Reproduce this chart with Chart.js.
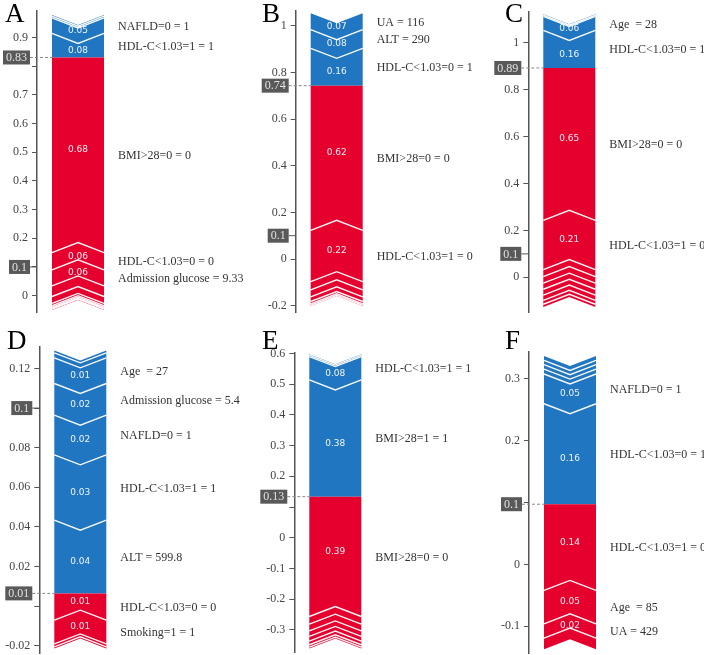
<!DOCTYPE html>
<html>
<head>
<meta charset="utf-8">
<script src="https://cdn.jsdelivr.net/npm/chart.js@4.4.1/dist/chart.umd.min.js"></script>
<style>
    html, body { margin: 0; padding: 0; background: #fff; width: 704px; height: 655px; overflow: hidden; }
    canvas { position: absolute; }
</style>
</head>
<body>
<canvas id="chart-a" width="290" height="350"></canvas>
<canvas id="chart-b" width="290" height="350"></canvas>
<canvas id="chart-c" width="290" height="350"></canvas>
<canvas id="chart-d" width="290" height="360"></canvas>
<canvas id="chart-e" width="290" height="360"></canvas>
<canvas id="chart-f" width="290" height="360"></canvas>
<script>
// Force plot data: blue segments stack upward from the output value, red ones downward

// A
const aBlueValues = [0.084, 0.054, 0.006, 0.004];
const aBlueNames = ['HDL-C<1.03=1 = 1', 'NAFLD=0 = 1', '', ''];
const aRedValues = [0.68, 0.06, 0.056, 0.037, 0.024, 0.008, 0.005, 0.004, 0.003, 0.003];
const aRedNames = ['BMI>28=0 = 0', 'HDL-C<1.03=0 = 0', 'Admission glucose = 9.33', '', '', '', '', '', '', ''];
const aOutput = 0.83;
const aBase = 0.1;
const aTicks = [0, 0.1, 0.2, 0.3, 0.4, 0.5, 0.6, 0.7, 0.8, 0.9];
const aTickLabels = ['0', '0.1', '0.2', '0.3', '0.4', '0.5', '0.6', '0.7', '', '0.9'];

// B
const bBlueValues = [0.16, 0.08, 0.07];
const bBlueNames = ['HDL-C<1.03=0 = 1', 'ALT = 290', 'UA = 116'];
const bRedValues = [0.62, 0.22, 0.035, 0.03, 0.02, 0.01, 0.006, 0.003];
const bRedNames = ['BMI>28=0 = 0', 'HDL-C<1.03=1 = 0', '', '', '', '', '', ''];
const bOutput = 0.743;
const bBase = 0.1;
const bTicks = [-0.2, 0, 0.2, 0.4, 0.6, 0.8, 1];
const bTickLabels = ['-0.2', '0', '0.2', '0.4', '0.6', '0.8', '1'];

// C
const cBlueValues = [0.16, 0.06, 0.005, 0.004];
const cBlueNames = ['HDL-C<1.03=0 = 1', 'Age  = 28', '', ''];
const cRedValues = [0.65, 0.21, 0.03, 0.028, 0.026, 0.025, 0.022, 0.017, 0.012];
const cRedNames = ['BMI>28=0 = 0', 'HDL-C<1.03=1 = 0', '', '', '', '', '', '', ''];
const cOutput = 0.893;
const cBase = 0.1;
const cTicks = [0, 0.2, 0.4, 0.6, 0.8, 1];
const cTickLabels = ['0', '0.2', '0.4', '0.6', '0.8', '1'];

// D
const dBlueValues = [0.037, 0.033, 0.02, 0.016, 0.013, 0.0025, 0.0012];
const dBlueNames = ['ALT = 599.8', 'HDL-C<1.03=1 = 1', 'NAFLD=0 = 1', 'Admission glucose = 5.4', 'Age  = 27', '', ''];
const dRedValues = [0.0135, 0.012, 0.0015, 0.0008];
const dRedNames = ['HDL-C<1.03=0 = 0', 'Smoking=1 = 1', '', ''];
const dOutput = 0.0064;
const dBase = 0.1;
const dTicks = [-0.02, 0, 0.02, 0.04, 0.06, 0.08, 0.1, 0.12];
const dTickLabels = ['-0.02', '', '0.02', '0.04', '0.06', '0.08', '', '0.12'];

// E
const eBlueValues = [0.38, 0.076, 0.005, 0.003];
const eBlueNames = ['BMI>28=1 = 1', 'HDL-C<1.03=1 = 1', '', ''];
const eRedValues = [0.39, 0.025, 0.022, 0.018, 0.015, 0.012, 0.008, 0.004];
const eRedNames = ['BMI>28=0 = 0', '', '', '', '', '', '', ''];
const eOutput = 0.1336;
const eBase = null;
const eTicks = [-0.3, -0.2, -0.1, 0, 0.1, 0.2, 0.3, 0.4, 0.5, 0.6];
const eTickLabels = ['-0.3', '-0.2', '-0.1', '0', '', '0.2', '0.3', '0.4', '0.5', '0.6'];

// F
const fBlueValues = [0.162, 0.048, 0.008, 0.007, 0.007, 0.007];
const fBlueNames = ['HDL-C<1.03=0 = 1', 'NAFLD=0 = 1', '', '', '', ''];
const fRedValues = [0.139, 0.054, 0.023, 0.018];
const fRedNames = ['HDL-C<1.03=1 = 0', 'Age  = 85', 'UA = 429', ''];
const fOutput = 0.097;
const fBase = null;
const fTicks = [-0.1, 0, 0.1, 0.2, 0.3];
const fTickLabels = ['-0.1', '0', '', '0.2', '0.3'];

const BLUE = '#2176c1';
const RED = '#e6002e';
const SERIF = '"Liberation Serif", "DejaVu Serif", serif';

const panels = [
    { id: 'chart-a', letter: 'A', left: 0, top: -20, h: 350, axisX: 37, axisTop: 11, axisBottom: 312, min: -0.057, max: 0.992,
      letterX: 5, letterY: 22, blue: aBlueValues, blueNames: aBlueNames, red: aRedValues, redNames: aRedNames,
      output: aOutput, base: aBase, ticks: aTicks, tickLabels: aTickLabels },
    { id: 'chart-b', letter: 'B', left: 230, top: -20, h: 350, axisX: 295.7, axisTop: 11, axisBottom: 312, min: -0.227, max: 1.063,
      letterX: 262, letterY: 22, blue: bBlueValues, blueNames: bBlueNames, red: bRedValues, redNames: bRedNames,
      output: bOutput, base: bBase, ticks: bTicks, tickLabels: bTickLabels },
    { id: 'chart-c', letter: 'C', left: 460, top: -20, h: 350, axisX: 528.3, axisTop: 11.7, axisBottom: 312, min: -0.148, max: 1.133,
      letterX: 505, letterY: 22, blue: cBlueValues, blueNames: cBlueNames, red: cRedValues, redNames: cRedNames,
      output: cOutput, base: cBase, ticks: cTicks, tickLabels: cTickLabels },
    { id: 'chart-d', letter: 'D', left: 0, top: 310, h: 360, axisX: 39.3, axisTop: 346.7, axisBottom: 653, min: -0.0237, max: 0.131,
      letterX: 7, letterY: 349, blue: dBlueValues, blueNames: dBlueNames, red: dRedValues, redNames: dRedNames,
      output: dOutput, base: dBase, ticks: dTicks, tickLabels: dTickLabels },
    { id: 'chart-e', letter: 'E', left: 230, top: 310, h: 360, axisX: 294.3, axisTop: 352.3, axisBottom: 652, min: -0.372, max: 0.6036,
      letterX: 262, letterY: 349, blue: eBlueValues, blueNames: eBlueNames, red: eRedValues, redNames: eRedNames,
      output: eOutput, base: eBase, ticks: eTicks, tickLabels: eTickLabels },
    { id: 'chart-f', letter: 'F', left: 460, top: 310, h: 360, axisX: 529, axisTop: 351.7, axisBottom: 653, min: -0.143, max: 0.343,
      letterX: 505, letterY: 349, blue: fBlueValues, blueNames: fBlueNames, red: fRedValues, redNames: fRedNames,
      output: fOutput, base: fBase, ticks: fTicks, tickLabels: fTickLabels }
];

// Short number format used in the value boxes
function fmt(v) {
    return String(Number(v.toFixed(2)));
}

function drawBox(ctx, text, y, rightX) {
    ctx.font = '12px ' + SERIF;
    const w = ctx.measureText(text).width + 6;
    const h = 14;
    ctx.fillStyle = '#595959';
    ctx.fillRect(rightX - w, y - h / 2, w, h);
    ctx.fillStyle = '#e2e2e2';
    ctx.textAlign = 'center';
    ctx.textBaseline = 'middle';
    ctx.fillText(text, rightX - w / 2, y + 0.5);
}

// Draw the chevron segments, labels and value boxes of one panel
function drawPanel(chart, p) {
    const ys = chart.scales.y;
    const ctx = chart.ctx;
    const py = v => ys.getPixelForValue(v);
    const L = ys.right + 15, W = 52, R = L + W, cx = L + W / 2, d = 10;
    const segs = [];

    ctx.save();

    // blue segments
    let lo = p.output;
    p.blue.forEach((v, i) => {
        const hi = lo + v;
        const yb = py(lo), yt = py(hi);
        ctx.beginPath();
        ctx.moveTo(L, yt);
        ctx.lineTo(cx, yt + d);
        ctx.lineTo(R, yt);
        ctx.lineTo(R, yb);
        ctx.lineTo(cx, i === 0 ? yb : yb + d);
        ctx.lineTo(L, yb);
        ctx.closePath();
        ctx.fillStyle = BLUE;
        ctx.fill();
        segs.push({ v, name: p.blueNames[i], mid: (yb + yt) / 2, shift: d / 2, sep: i > 0 ? yb : null, dir: 1 });
        lo = hi;
    });

    // red segments
    let hi = p.output;
    p.red.forEach((v, i) => {
        const lo2 = hi - v;
        const yt = py(hi), yb = py(lo2);
        ctx.beginPath();
        ctx.moveTo(L, yt);
        ctx.lineTo(cx, i === 0 ? yt : yt - d);
        ctx.lineTo(R, yt);
        ctx.lineTo(R, yb);
        ctx.lineTo(cx, yb - d);
        ctx.lineTo(L, yb);
        ctx.closePath();
        ctx.fillStyle = RED;
        ctx.fill();
        segs.push({ v, name: p.redNames[i], mid: (yb + yt) / 2, shift: -d / 2, sep: i > 0 ? yt : null, dir: -1 });
        hi = lo2;
    });

    // white separators between segments
    ctx.strokeStyle = 'rgba(255,255,255,0.95)';
    ctx.lineWidth = 1.4;
    segs.forEach(s => {
        if (s.sep === null) return;
        ctx.beginPath();
        ctx.moveTo(L, s.sep);
        ctx.lineTo(cx, s.sep + s.dir * d);
        ctx.lineTo(R, s.sep);
        ctx.stroke();
    });

    // value labels inside the bar and feature labels on the right
    segs.forEach(s => {
        if (!s.name) return;
        ctx.textAlign = 'center';
        ctx.textBaseline = 'middle';
        ctx.font = '9px "DejaVu Sans", sans-serif';
        ctx.fillStyle = 'rgba(255,255,255,0.92)';
        ctx.fillText(s.v.toFixed(2), cx, s.mid + s.shift);
        ctx.textAlign = 'left';
        ctx.font = '12px ' + SERIF;
        ctx.fillStyle = '#333';
        ctx.fillText(s.name, L + W + 14, s.mid + 1);
    });

    // output value: dashed guide and box
    const axisX = ys.right;
    const yo = py(p.output);
    ctx.strokeStyle = '#888';
    ctx.lineWidth = 1;
    ctx.setLineDash([3, 2]);
    ctx.beginPath();
    ctx.moveTo(axisX - 7, yo);
    ctx.lineTo(L, yo);
    ctx.stroke();
    ctx.setLineDash([]);
    drawBox(ctx, fmt(p.output), yo, axisX - 7);

    // base value box
    if (p.base !== null) {
        const yb = py(p.base);
        ctx.strokeStyle = '#555';
        ctx.beginPath();
        ctx.moveTo(axisX - 7, yb);
        ctx.lineTo(axisX, yb);
        ctx.stroke();
        drawBox(ctx, fmt(p.base), yb, axisX - 7);
    }

    // panel letter
    ctx.font = '27px ' + SERIF;
    ctx.fillStyle = '#000';
    ctx.textAlign = 'left';
    ctx.textBaseline = 'alphabetic';
    ctx.fillText(p.letter, p.letterX - p.left, p.letterY - p.top);

    ctx.restore();
}

function renderPanel(p) {
    const canvas = document.getElementById(p.id);
    canvas.style.left = p.left + 'px';
    canvas.style.top = p.top + 'px';

    new Chart(canvas, {
        type: 'scatter',
        data: { datasets: [] },
        options: {
            responsive: false,
            animation: false,
            devicePixelRatio: 1,
            layout: {
                padding: { top: p.axisTop - p.top, bottom: p.top + p.h - p.axisBottom, left: 0, right: 10 }
            },
            plugins: {
                legend: { display: false },
                tooltip: { enabled: false }
            },
            scales: {
                x: { display: false, min: 0, max: 1 },
                y: {
                    min: p.min,
                    max: p.max,
                    afterFit: s => { s.width = p.axisX - p.left; },
                    afterBuildTicks: s => { s.ticks = p.ticks.map(v => ({ value: v })); },
                    ticks: {
                        autoSkip: false,
                        padding: 4,
                        color: '#444',
                        font: { family: SERIF, size: 12 },
                        callback: (v, i) => p.tickLabels[i]
                    },
                    grid: { drawOnChartArea: false, drawTicks: true, tickLength: 5, color: '#555', lineWidth: 1 },
                    border: { display: true, color: '#555', width: 1.5 }
                }
            }
        },
        plugins: [{ id: 'force-' + p.id, afterDraw: chart => drawPanel(chart, p) }]
    });
}

panels.forEach(renderPanel);
</script>
</body>
</html>
